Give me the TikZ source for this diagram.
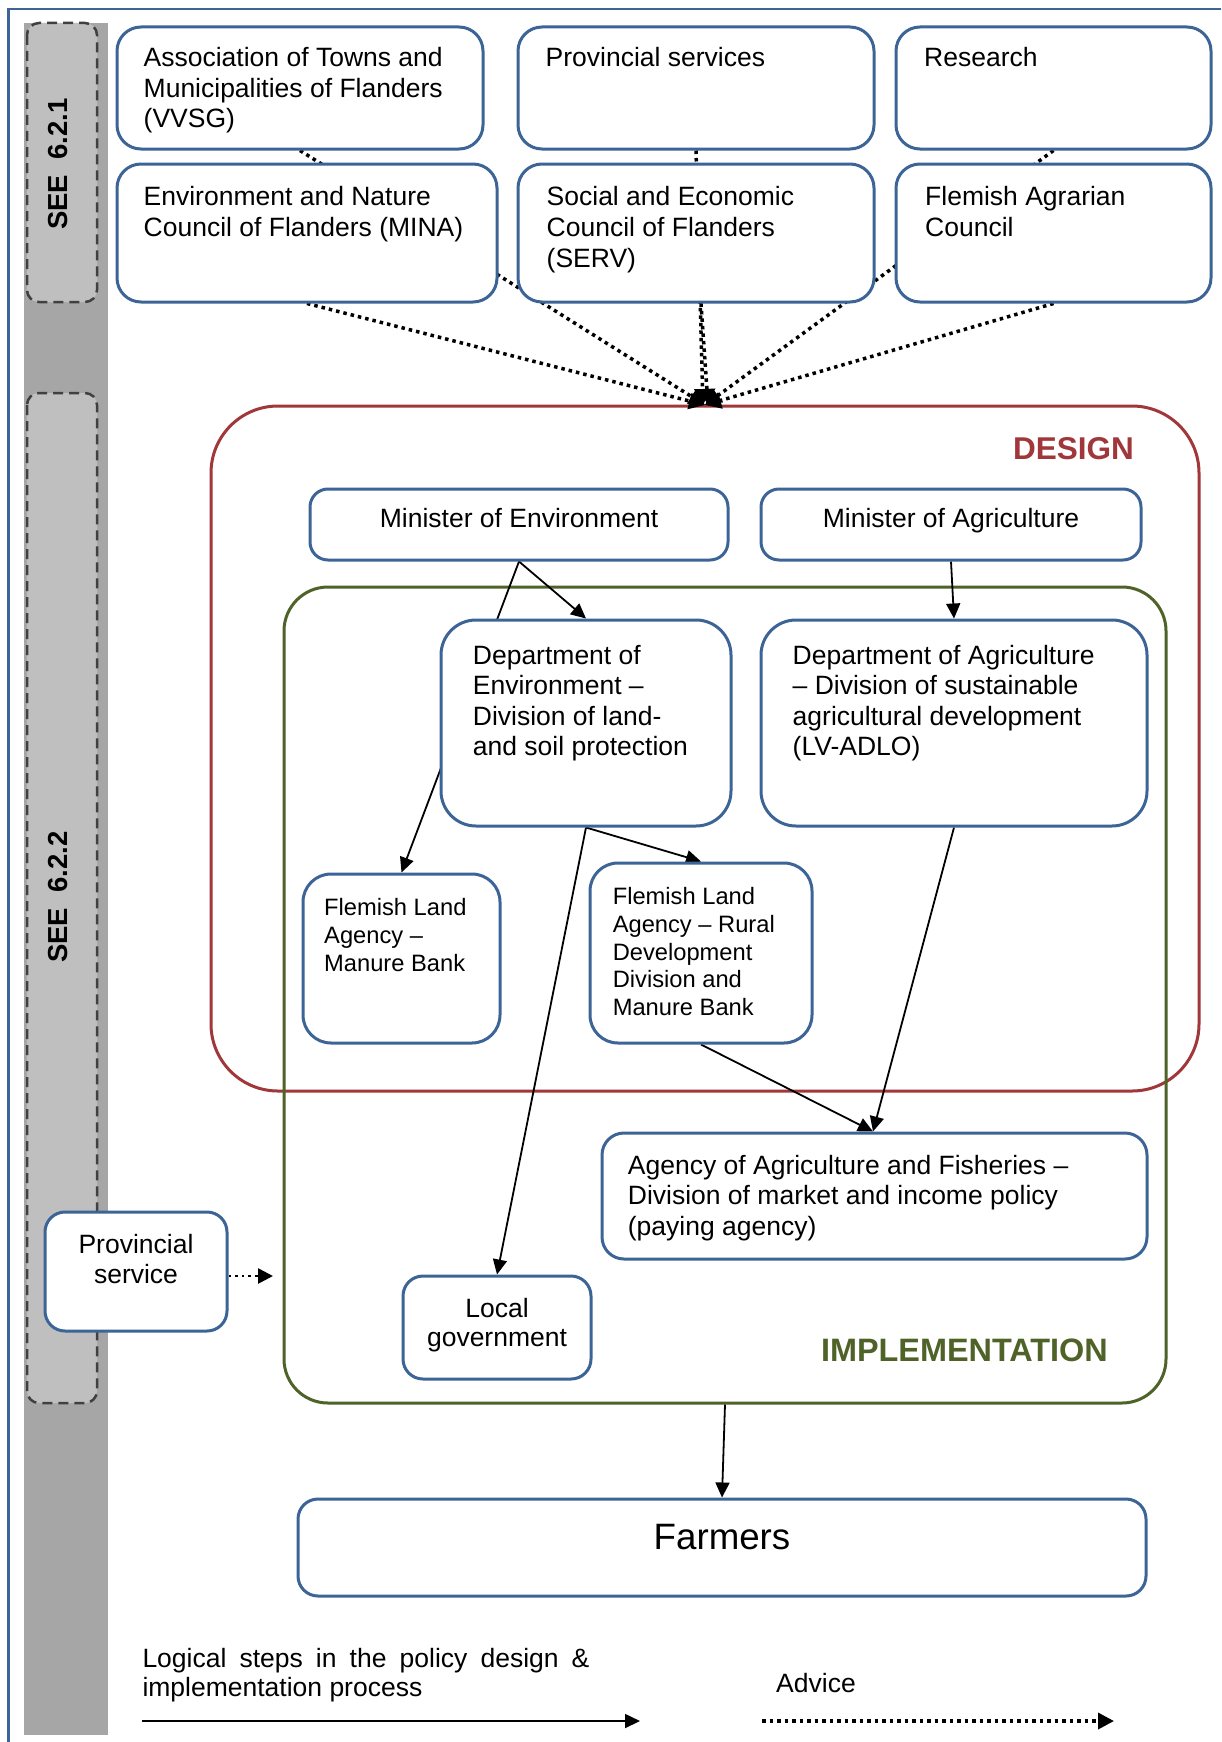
\documentclass[tikz,border=0pt]{standalone}
\usepackage{fontspec}
\setmainfont{Liberation Sans}
\usetikzlibrary{arrows.meta}
\definecolor{bblue}{HTML}{3C6496}
\definecolor{dred}{HTML}{A0373A}
\definecolor{dgreen}{HTML}{4F6228}
\definecolor{stripgray}{HTML}{A6A6A6}
\definecolor{ingray}{HTML}{BFBFBF}
\definecolor{dashgray}{HTML}{404040}
\newcommand\myfA{\fontsize{26.5pt}{30.5pt}\selectfont}
\newcommand\myfB{\fontsize{23.7pt}{27.8pt}\selectfont}
\newcommand\myfC{\fontsize{36.7pt}{40pt}\selectfont}
\newcommand\myfD{\fontsize{31.5pt}{36pt}\selectfont}
\newcommand\myfE{\fontsize{32.4pt}{36pt}\selectfont}
\newcommand\myfS{\fontsize{27.5pt}{30pt}\selectfont}
\pgfdeclarelayer{bg}
\pgfdeclarelayer{lines}
\pgfsetlayers{bg,lines,main}
\tikzset{
  bbox/.style={draw=bblue, line width=3pt, fill=white, rectangle, inner sep=0pt},
  txt/.style={inner sep=0pt, anchor=base west},
  ctxt/.style={inner sep=0pt, anchor=base},
  advice/.style={line width=3.5pt, dash pattern=on 3.5pt off 4pt, -{Triangle[length=16pt,width=16pt]}},
  smalladvice/.style={line width=2.6pt, dash pattern=on 2.6pt off 4pt, -{Triangle[length=15pt,width=15pt]}},
  flow/.style={line width=1.8pt, -{Triangle[length=15pt,width=14pt]}},
  dashbox/.style={fill=ingray, draw=dashgray, line width=2.5pt, dash pattern=on 10pt off 6pt, rounded corners=12pt},
}
\begin{document}
\begin{tikzpicture}[x=1pt,y=-1pt]
\useasboundingbox (0,0) rectangle (1221,1742);
\begin{pgfonlayer}{bg}
\fill[white] (0,0) rectangle (1221,1742);
\draw[bblue, line width=2.7pt] (8.7,1742) -- (8.7,9) -- (1221,9);
\fill[stripgray] (24,23) rectangle (108,1735);
\draw[dashbox] (27,23) rectangle (97,302);
\draw[dashbox] (27,393) rectangle (97,1403);
\node[draw=dred, line width=3pt, rounded corners=67pt, minimum width=988pt, minimum height=685pt, inner sep=0pt] (design) at (705,748.5) {};
\node[draw=dgreen, line width=3pt, rounded corners=44pt, minimum width=882pt, minimum height=816pt, inner sep=0pt] (impl) at (725,995) {};
\end{pgfonlayer}

\node[rotate=90, inner sep=0pt, font=\myfS\bfseries] (see1) at (58,164) {SEE~~6.2.1};
\node[rotate=90, inner sep=0pt, font=\myfS\bfseries] (see2) at (58,897) {SEE~~6.2.2};

% top boxes
\node[bbox, rounded corners=24pt, minimum width=366pt, minimum height=122pt] (vvsg) at (300,88) {};
\node[bbox, rounded corners=24pt, minimum width=356pt, minimum height=122pt] (provs) at (696,88) {};
\node[bbox, rounded corners=24pt, minimum width=315pt, minimum height=122pt] (research) at (1053.5,88) {};
\node[bbox, rounded corners=24pt, minimum width=380pt, minimum height=138pt] (mina) at (307,233) {};
\node[bbox, rounded corners=24pt, minimum width=356pt, minimum height=138pt] (serv) at (696,233) {};
\node[bbox, rounded corners=24pt, minimum width=315pt, minimum height=138pt] (fac) at (1053.5,233) {};

% inner boxes
\node[bbox, rounded corners=18pt, minimum width=418pt, minimum height=71pt] (mine) at (519,524.5) {};
\node[bbox, rounded corners=18pt, minimum width=380pt, minimum height=71pt] (magr) at (951,524.5) {};
\node[bbox, rounded corners=35pt, minimum width=290pt, minimum height=206pt] (denv) at (586,723) {};
\node[bbox, rounded corners=35pt, minimum width=386pt, minimum height=206pt] (dagr) at (954,723) {};
\node[bbox, rounded corners=28pt, minimum width=197pt, minimum height=169pt] (flamb) at (401.5,958.5) {};
\node[bbox, rounded corners=28pt, minimum width=222pt, minimum height=180pt] (flard) at (701,953) {};
\node[bbox, rounded corners=22pt, minimum width=545pt, minimum height=126pt] (agency) at (874.5,1196) {};
\node[bbox, rounded corners=20pt, minimum width=182pt, minimum height=119pt] (provsvc) at (136,1271.5) {};
\node[bbox, rounded corners=20pt, minimum width=188pt, minimum height=103pt] (localgov) at (497,1327.5) {};
\node[bbox, rounded corners=20pt, minimum width=848pt, minimum height=97pt] (farmers) at (722,1547.5) {};

% texts
\node[txt] (tvvsg) at (143.5,67) {\parbox[t]{500pt}{\raggedright\myfA Association of Towns and\\Municipalities of Flanders\\(VVSG)}};
\node[txt] (tprovs) at (545.5,67) {\myfA Provincial services};
\node[txt] (tresearch) at (924,67) {\myfA Research};
\node[txt] (tmina) at (143.5,205) {\parbox[t]{500pt}{\raggedright\myfA\baselineskip=31pt Environment and Nature\\Council of Flanders (MINA)}};
\node[txt] (tserv) at (546.5,205) {\parbox[t]{500pt}{\raggedright\myfA\baselineskip=31pt Social and Economic\\Council of Flanders\\(SERV)}};
\node[txt] (tfac) at (925,205) {\parbox[t]{500pt}{\raggedright\myfA\baselineskip=31pt Flemish Agrarian\\Council}};
\node[ctxt] (tmine) at (519,527) {\myfA Minister of Environment};
\node[ctxt] (tmagr) at (951,527) {\myfA Minister of Agriculture};
\node[txt] (tdenv) at (472.7,664) {\parbox[t]{500pt}{\raggedright\myfA Department of\\Environment –\\Division of land-\\and soil protection}};
\node[txt] (tdagr) at (792.5,664) {\parbox[t]{500pt}{\raggedright\myfA Department of Agriculture\\– Division of sustainable\\agricultural development\\(LV-ADLO)}};
\node[txt] (tflamb) at (324,915.7) {\parbox[t]{500pt}{\raggedright\myfB Flemish Land\\Agency –\\Manure Bank}};
\node[txt] (tflard) at (612.6,904.5) {\parbox[t]{500pt}{\raggedright\myfB Flemish Land\\Agency – Rural\\Development\\Division and\\Manure Bank}};
\node[txt] (tagency) at (627.7,1174) {\parbox[t]{600pt}{\raggedright\myfA Agency of Agriculture and Fisheries –\\Division of market and income policy\\(paying agency)}};
\node[ctxt] (tprovsvc) at (136,1253) {\parbox[t]{200pt}{\centering\myfA Provincial\\service}};
\node[ctxt] (tlocal) at (497,1317) {\parbox[t]{200pt}{\centering\myfA\baselineskip=29.5pt Local\\government}};
\node[ctxt] (tfarmers) at (722,1549) {\myfC Farmers};
\node[inner sep=0pt, anchor=base east, text=dred] (tdesign) at (1134,459.5) {\myfD\bfseries DESIGN};
\node[inner sep=0pt, anchor=base east, text=dgreen] (timpl) at (1108,1361) {\myfE\bfseries IMPLEMENTATION};
\node[txt] (tlegend) at (142.3,1667) {\parbox[t]{447pt}{\myfA\baselineskip=29.5pt Logical steps in the policy design \&\linebreak implementation process}};
\node[txt] (tadvice) at (776,1692) {\myfA Advice};

% connectors
\coordinate (conv) at (705,405);
\coordinate (provend) at (273,1276);
\coordinate (l1a) at (142,1721);
\coordinate (l1b) at (640,1721);
\coordinate (l2a) at (762,1721);
\coordinate (l2b) at (1114,1721);
\begin{pgfonlayer}{lines}
\draw[advice] (vvsg.south) -- (conv);
\draw[advice] (provs.south) -- ([xshift=-2pt]conv);
\draw[advice] (research.south) -- (conv);
\draw[advice] (mina.south) -- (conv);
\draw[advice] ([xshift=5pt]serv.south) -- ([xshift=3pt]conv);
\draw[advice] (fac.south) -- (conv);
\draw[flow] (mine.south) -- (denv.north);
\draw[flow] (mine.south) -- (flamb.north);
\draw[flow] (magr.south) -- (dagr.north);
\draw[flow] (denv.south) -- (flard.north);
\draw[flow] (denv.south) -- (localgov.north);
\draw[flow] (flard.south) -- ([xshift=-1.5pt]agency.north);
\draw[flow] (dagr.south) -- ([xshift=-1.5pt]agency.north);
\draw[flow] (impl.south) -- (farmers.north);
\draw[smalladvice] ([yshift=-4.5pt]provsvc.east) -- (provend);
\draw[flow] (l1a) -- (l1b);
\draw[advice] (l2a) -- (l2b);
\end{pgfonlayer}
\end{tikzpicture}
\end{document}
